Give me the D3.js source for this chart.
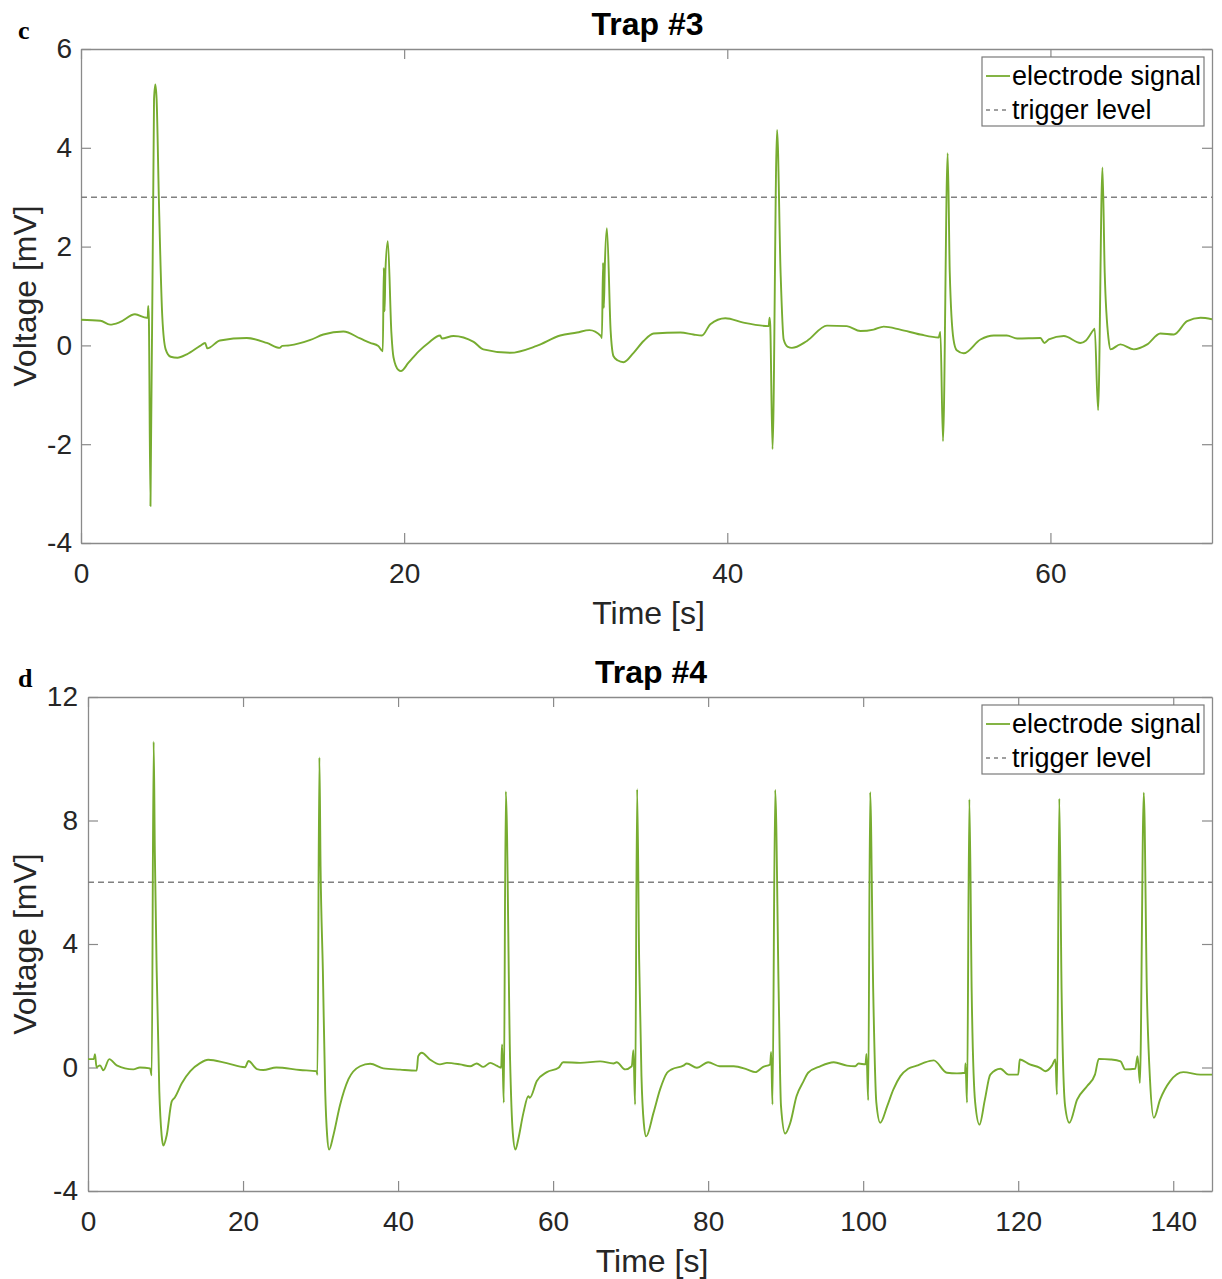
<!DOCTYPE html>
<html>
<head>
<meta charset="utf-8">
<script src="https://cdn.jsdelivr.net/npm/d3@7"></script>
<style>
  html, body { margin: 0; padding: 0; background: #fff; }
  svg { display: block; }
</style>
</head>
<body>
<svg id="fig" width="1222" height="1279"></svg>
<script>
// ---- Trap #3 electrode recording (time in s, voltage in mV) ----
const trap3Time = [0, 1.2, 1.8, 2.4, 3.34, 4.07, 4.13, 4.16, 4.2, 4.3, 4.52, 4.6, 4.68, 4.82, 5.03, 5.24, 5.55, 5.97, 6.55, 7.37, 7.68, 7.82, 8.6, 10.26, 11.5, 12.3, 12.45, 12.9, 14.2, 15.0, 16.24, 17.28, 17.9, 18.4, 18.68, 18.74, 18.79, 18.84, 18.99, 19.21, 19.34, 19.65, 19.8, 20.27, 20.9, 21.5, 22.23, 22.33, 23.05, 24.3, 24.9, 26.56, 28.2, 29.66, 30.7, 31.47, 32.18, 32.24, 32.31, 32.36, 32.42, 32.55, 32.78, 32.96, 33.2, 33.58, 34.2, 34.82, 35.44, 37.1, 37.9, 38.43, 38.95, 39.88, 41.0, 42.56, 42.62, 42.66, 42.8, 43.08, 43.3, 43.49, 43.75, 44.0, 44.93, 46.17, 47.4, 48.24, 49.06, 49.68, 50.7, 51.95, 53.08, 53.19, 53.35, 53.64, 53.77, 54.0, 54.2, 54.63, 55.67, 56.5, 57.3, 57.94, 59.38, 59.63, 59.9, 60.83, 61.86, 62.2, 62.68, 62.74, 62.95, 63.22, 63.36, 63.6, 63.72, 64.33, 65.16, 65.99, 66.8, 67.64, 68.46, 69.29, 70];
const trap3Volt = [0.52, 0.5, 0.42, 0.47, 0.63, 0.56, 0.56, 0.8, 0.55, -3.25, 4.98, 5.28, 4.98, 2.96, 0.59, -0.08, -0.23, -0.25, -0.18, -0.01, 0.05, -0.06, 0.1, 0.15, 0.05, -0.05, -0.01, 0.0, 0.11, 0.22, 0.28, 0.14, 0.05, -0.01, -0.12, 1.57, 0.69, 1.5, 2.11, 0.26, -0.24, -0.5, -0.52, -0.35, -0.12, 0.05, 0.2, 0.14, 0.19, 0.07, -0.08, -0.15, -0.01, 0.2, 0.26, 0.31, 0.19, 0.15, 1.67, 0.76, 1.6, 2.37, 0.3, -0.22, -0.3, -0.34, -0.15, 0.09, 0.24, 0.26, 0.22, 0.2, 0.43, 0.55, 0.46, 0.39, 0.56, 0.4, -2.1, 4.36, 1.47, 0.12, -0.03, -0.05, 0.09, 0.4, 0.39, 0.29, 0.32, 0.38, 0.32, 0.22, 0.16, 0.27, -1.94, 3.89, 1.47, 0.12, -0.1, -0.16, 0.12, 0.2, 0.2, 0.14, 0.15, 0.05, 0.12, 0.19, 0.05, 0.1, 0.32, 0.34, -1.31, 3.6, 1.47, 0.12, -0.08, 0.02, -0.08, 0.02, 0.24, 0.22, 0.49, 0.56, 0.53];

// ---- Trap #4 electrode recording (time in s, voltage in mV) ----
const trap4Time = [0, 0.75, 0.9, 1.1, 1.55, 1.98, 2.75, 3.7, 5.85, 6.7, 8.0, 8.22, 8.47, 8.62, 8.86, 9.2, 9.5, 9.72, 10.15, 10.8, 11.2, 12.1, 13.2, 14.45, 15.5, 17.9, 20.26, 20.7, 21.8, 22.6, 24.3, 27.35, 29.5, 29.6, 29.85, 30.0, 30.3, 30.6, 30.85, 31.1, 31.65, 32.5, 33.6, 35.1, 36.4, 38.1, 40.26, 42.4, 42.6, 43.05, 44.1, 45.4, 46.3, 48.0, 49.3, 50.15, 51.0, 51.9, 52.7, 53.3, 53.42, 53.64, 53.9, 54.45, 54.8, 55.14, 55.5, 56.17, 56.8, 57.0, 57.9, 59.2, 60.7, 61.3, 63.5, 66.06, 67.8, 68.2, 69.3, 70.15, 70.36, 70.58, 70.84, 71.1, 71.4, 71.7, 72.0, 72.95, 73.8, 74.7, 75.3, 76.8, 77.25, 78.55, 80.0, 81.5, 83.3, 85.0, 86.1, 87.1, 88.0, 88.13, 88.3, 88.65, 89.1, 89.4, 89.94, 90.6, 91.4, 92.3, 92.9, 94.45, 96.2, 97.9, 98.97, 99.4, 100.3, 100.43, 100.65, 100.9, 101.3, 101.7, 102.2, 103.1, 103.9, 104.8, 105.8, 106.9, 107.8, 109.1, 110.8, 112.1, 113.15, 113.2, 113.4, 113.7, 114.0, 114.45, 115.0, 115.7, 116.4, 117.7, 118.75, 120.0, 120.2, 121.5, 122.8, 123.5, 124.35, 124.8, 125.0, 125.3, 125.6, 126.05, 126.6, 127.6, 128.9, 129.9, 130.4, 131.9, 133.2, 133.8, 135.1, 135.4, 135.7, 136.2, 136.6, 137.0, 137.5, 138.3, 139.6, 141.3, 143.5, 145];
const trap4Volt = [0.27, 0.27, 0.43, 0.01, 0.07, -0.09, 0.27, 0.07, -0.06, 0.0, -0.03, -0.25, 10.55, 7.0, 3.13, -0.77, -2.2, -2.53, -2.2, -1.1, -0.97, -0.51, -0.12, 0.14, 0.25, 0.14, 0.01, 0.21, -0.05, -0.08, 0.0, -0.08, -0.12, -0.24, 10.04, 6.52, 3.13, -0.77, -2.2, -2.66, -2.2, -1.23, -0.38, 0.04, 0.12, -0.03, -0.07, -0.1, 0.37, 0.48, 0.26, 0.1, 0.15, 0.1, 0.04, 0.13, 0.02, 0.15, 0.06, -0.01, 0.75, -1.14, 8.94, 0.26, -2.12, -2.66, -2.33, -1.47, -0.93, -0.98, -0.44, -0.15, -0.01, 0.17, 0.15, 0.2, 0.13, 0.17, -0.06, 0.04, 0.56, -1.2, 9.01, 3.5, -0.28, -1.8, -2.23, -1.47, -0.71, -0.17, -0.06, 0.06, 0.13, -0.01, 0.17, 0.04, 0.04, -0.06, -0.15, 0.02, 0.1, 0.5, -1.2, 8.99, 2.42, -1.25, -2.14, -1.79, -0.93, -0.45, -0.17, 0.04, 0.17, 0.06, 0.04, 0.13, 0.1, 0.44, -1.06, 8.92, 2.42, -1.14, -1.79, -1.25, -0.71, -0.28, -0.04, 0.06, 0.15, 0.23, -0.17, -0.19, -0.17, 0.13, -1.14, 8.69, 2.42, -1.14, -1.85, -1.04, -0.23, -0.04, -0.23, -0.23, 0.26, 0.1, -0.01, -0.12, 0.06, 0.26, -0.88, 8.71, 2.42, -1.25, -1.79, -1.04, -0.6, -0.23, 0.28, 0.26, 0.2, -0.06, -0.04, 0.37, -0.5, 8.9, 2.42, -0.39, -1.63, -1.04, -0.44, -0.15, -0.23, -0.23];

// ---- Axis settings ----
const trap3XDomain = [0, 70];
const trap3YDomain = [-4, 6];
const trap3XTicks = [0, 20, 40, 60];
const trap3YTicks = [-4, -2, 0, 2, 4, 6];
const trap3Trigger = 3;

const trap4XDomain = [0, 145];
const trap4YDomain = [-4, 12];
const trap4XTicks = [0, 20, 40, 60, 80, 100, 120, 140];
const trap4YTicks = [-4, 0, 4, 8, 12];
const trap4Trigger = 6;

const legendLabels = ["electrode signal", "trigger level"];

const SIGNAL_COLOR = "#77ac30";
const AXIS_COLOR = "#8a8a8a";
const TEXT_COLOR = "#262626";
const SANS = "'Liberation Sans', Arial, Helvetica, sans-serif";

// plain hyphen-minus for negative tick labels
const tickText = d => String(d);

const svg = d3.select("#fig");

function drawPanel(opt) {
  const { left, top, right, bottom } = opt.box;
  const x = d3.scaleLinear().domain(opt.xDomain).range([left, right]);
  const y = d3.scaleLinear().domain(opt.yDomain).range([bottom, top]);

  const g = svg.append("g");

  // clip region for the trace
  g.append("clipPath").attr("id", opt.id + "-clip")
    .append("rect")
    .attr("x", left).attr("y", top)
    .attr("width", right - left).attr("height", bottom - top);

  const TICK = 10;
  const styleAxis = sel => {
    sel.selectAll("path.domain").attr("stroke", AXIS_COLOR).attr("stroke-width", 1.3);
    sel.selectAll(".tick line").attr("stroke", AXIS_COLOR).attr("stroke-width", 1.2);
    sel.selectAll(".tick text")
      .attr("fill", TEXT_COLOR)
      .style("font-family", SANS)
      .style("font-size", "28px");
  };

  // bottom axis with labels
  g.append("g").attr("transform", `translate(0,${bottom})`)
    .call(d3.axisBottom(x).tickValues(opt.xTicks).tickFormat(tickText)
      .tickSizeInner(-TICK).tickSizeOuter(0).tickPadding(20))
    .call(styleAxis);
  // top axis (ticks only)
  g.append("g").attr("transform", `translate(0,${top})`)
    .call(d3.axisTop(x).tickValues(opt.xTicks).tickSizeInner(-TICK).tickSizeOuter(0).tickFormat(""))
    .call(styleAxis);
  // left axis with labels
  g.append("g").attr("transform", `translate(${left},0)`)
    .call(d3.axisLeft(y).tickValues(opt.yTicks).tickFormat(tickText)
      .tickSizeInner(-TICK).tickSizeOuter(0).tickPadding(opt.yPad))
    .call(styleAxis);
  // right axis (ticks only)
  g.append("g").attr("transform", `translate(${right},0)`)
    .call(d3.axisRight(y).tickValues(opt.yTicks).tickSizeInner(-TICK).tickSizeOuter(0).tickFormat(""))
    .call(styleAxis);

  // trigger threshold
  g.append("line")
    .attr("x1", left).attr("x2", right)
    .attr("y1", y(opt.trigger)).attr("y2", y(opt.trigger))
    .attr("stroke", "#808080").attr("stroke-width", 1.6)
    .attr("stroke-dasharray", "6,4");

  // electrode trace
  const pts = opt.time.map((t, i) => [t, opt.volt[i]]);
  g.append("path")
    .datum(pts)
    .attr("clip-path", `url(#${opt.id}-clip)`)
    .attr("fill", "none")
    .attr("stroke", SIGNAL_COLOR)
    .attr("stroke-width", 1.9)
    .attr("stroke-linejoin", "round")
    .attr("d", d3.line().curve(d3.curveMonotoneX).x(d => x(d[0])).y(d => y(d[1])));

  // title
  g.append("text")
    .attr("x", (left + right) / 2 + 1).attr("y", top - 14)
    .attr("text-anchor", "middle")
    .style("font-family", SANS).style("font-size", "32px").style("font-weight", "bold")
    .attr("fill", "#000")
    .text(opt.title);

  // panel letter
  g.append("text")
    .attr("x", 18).attr("y", top - 10)
    .style("font-family", "'Liberation Serif', 'Times New Roman', serif")
    .style("font-size", "26px").style("font-weight", "bold")
    .attr("fill", "#000")
    .text(opt.letter);

  // axis titles
  g.append("text")
    .attr("x", (left + right) / 2 + 2).attr("y", bottom + 81)
    .attr("text-anchor", "middle")
    .style("font-family", SANS).style("font-size", "32px")
    .attr("fill", TEXT_COLOR)
    .text("Time [s]");
  g.append("text")
    .attr("transform", `translate(36,${(top + bottom) / 2}) rotate(-90)`)
    .attr("text-anchor", "middle")
    .style("font-family", SANS).style("font-size", "32px")
    .attr("fill", TEXT_COLOR)
    .text("Voltage [mV]");

  // legend
  const lx = 982, ly = top + 8, lw = 222, lh = 69;
  const leg = g.append("g");
  leg.append("rect")
    .attr("x", lx).attr("y", ly).attr("width", lw).attr("height", lh)
    .attr("fill", "#fff").attr("stroke", "#7a7a7a").attr("stroke-width", 1.2);
  const rows = [ly + 19, ly + 53];
  leg.append("line")
    .attr("x1", lx + 4).attr("x2", lx + 28).attr("y1", rows[0]).attr("y2", rows[0])
    .attr("stroke", SIGNAL_COLOR).attr("stroke-width", 1.8);
  leg.append("line")
    .attr("x1", lx + 4).attr("x2", lx + 28).attr("y1", rows[1]).attr("y2", rows[1])
    .attr("stroke", "#808080").attr("stroke-width", 1.6).attr("stroke-dasharray", "4,4");
  legendLabels.forEach((lab, i) => {
    leg.append("text")
      .attr("x", lx + 30).attr("y", rows[i])
      .attr("dy", "0.35em")
      .style("font-family", SANS).style("font-size", "27px")
      .attr("fill", "#000")
      .text(lab);
  });
}

drawPanel({
  id: "trap3", title: "Trap #3", letter: "c",
  box: { left: 81, top: 49, right: 1212, bottom: 543 },
  xDomain: trap3XDomain, yDomain: trap3YDomain,
  xTicks: trap3XTicks, yTicks: trap3YTicks,
  trigger: trap3Trigger, time: trap3Time, volt: trap3Volt, yPad: 9
});

drawPanel({
  id: "trap4", title: "Trap #4", letter: "d",
  box: { left: 88, top: 697, right: 1212, bottom: 1191 },
  xDomain: trap4XDomain, yDomain: trap4YDomain,
  xTicks: trap4XTicks, yTicks: trap4YTicks,
  trigger: trap4Trigger, time: trap4Time, volt: trap4Volt, yPad: 10
});
</script>
</body>
</html>
